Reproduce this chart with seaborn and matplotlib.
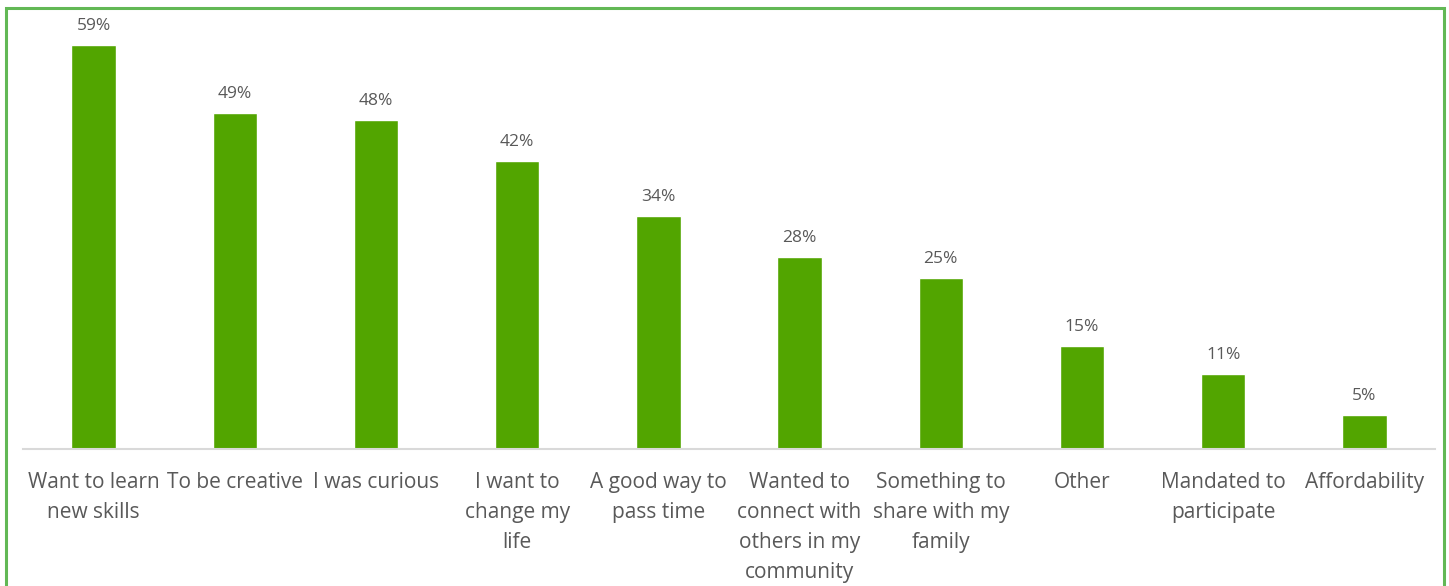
import matplotlib
matplotlib.use("Agg")
import matplotlib.pyplot as plt
import seaborn as sns
import pandas as pd
from matplotlib.patches import Rectangle

reasons = [
    "Want to learn\nnew skills",
    "To be creative",
    "I was curious",
    "I want to\nchange my\nlife",
    "A good way to\npass time",
    "Wanted to\nconnect with\nothers in my\ncommunity",
    "Something to\nshare with my\nfamily",
    "Other",
    "Mandated to\nparticipate",
    "Affordability",
]
shares = [0.59, 0.49, 0.48, 0.42, 0.34, 0.28, 0.25, 0.15, 0.11, 0.05]
value_labels = ["59%", "49%", "48%", "42%", "34%", "28%", "25%", "15%", "11%", "5%"]

df = pd.DataFrame({"reason": reasons, "share": shares})

sns.set_theme(style="white")
plt.rcParams["font.family"] = ["Open Sans", "DejaVu Sans"]

W, H = 1449, 586
fig = plt.figure(figsize=(W / 100, H / 100), dpi=100)

ax_left, ax_right, ax_bottom = 23, 1435, 449
px_per_unit = 404 / 0.59
ymax = 0.64
ax_top = ax_bottom - ymax * px_per_unit
ax = fig.add_axes([ax_left / W, (H - ax_bottom) / H,
                   (ax_right - ax_left) / W, (ax_bottom - ax_top) / H])

bar_color = "#52A500"
text_color = "#595959"

sns.barplot(data=df, x="reason", y="share", color=bar_color, width=0.315,
            saturation=1, ax=ax)

ax.set_ylim(0, ymax)
ax.set_xlim(-0.5, len(reasons) - 0.5)
ax.set_xlabel("")
ax.set_ylabel("")
ax.set_yticks([])
for side in ("top", "right", "left"):
    ax.spines[side].set_visible(False)
ax.spines["bottom"].set_color("#D9D9D9")
ax.spines["bottom"].set_linewidth(1.5)

ax.tick_params(axis="x", length=0, pad=16.5, labelsize=15, labelcolor=text_color)
for lbl in ax.get_xticklabels():
    lbl.set_linespacing(1.57)
    lbl.set_verticalalignment("top")

for container in ax.containers:
    ax.bar_label(container, labels=value_labels, padding=8, fontsize=12.5,
                 color=text_color)

fig.patches.append(Rectangle((5.5 / W, -0.05), (1444 - 5.5) / W, 0.05 + (H - 8) / H,
                             transform=fig.transFigure, fill=False,
                             edgecolor="#62B855", linewidth=2.2))

fig.savefig("out.png", dpi=100)
